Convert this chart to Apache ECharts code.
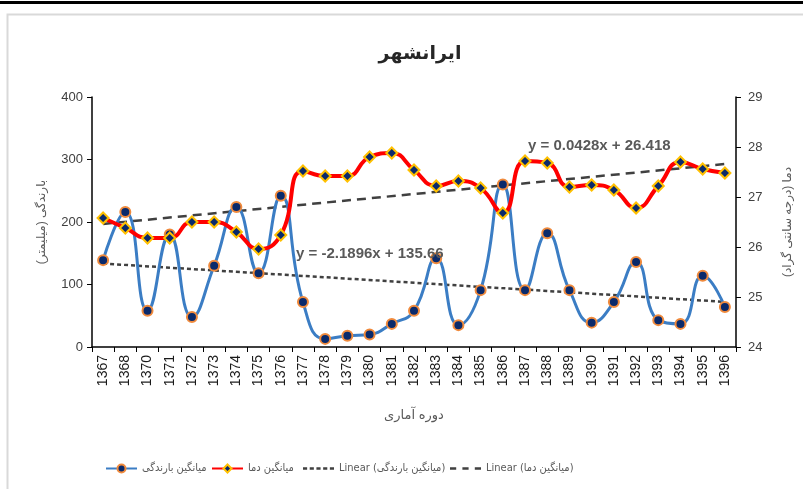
<!DOCTYPE html>
<html>
<head>
<meta charset="utf-8">
<script src="https://cdn.jsdelivr.net/npm/echarts@6/dist/echarts.min.js"></script>
<style>
html,body{margin:0;padding:0;background:#fff;}
#chart{width:803px;height:489px;}
</style>
</head>
<body>
<div id="chart"></div>
<script>
// ---- data ----
var years = ['1367','1368','1370','1371','1372','1373','1374','1375','1376','1377','1378','1379','1380','1381','1382','1383','1384','1385','1386','1387','1388','1389','1390','1391','1392','1393','1394','1395','1396'];
var precipitation = [139,216,58,180,48,130,224,118,242,72,13,18,20,37,58,142,35,91,260,91,182,91,39,72,136,43,37,114,64];
var temperature = [26.58,26.38,26.18,26.18,26.5,26.5,26.3,25.96,26.24,27.52,27.42,27.42,27.8,27.88,27.54,27.22,27.32,27.18,26.68,27.72,27.68,27.2,27.24,27.14,26.78,27.22,27.7,27.56,27.48];
var precipTrendCoef = [-2.1896, 135.66];
var tempTrendCoef = [0.0428, 26.418];
var precipTicks = [0, 400, 100];
var tempTicks = [24, 29, 1];
var title = 'ایرانشهر';
var seriesNames = ['میانگین بارندگی', 'میانگین دما', 'Linear (میانگین بارندگی)', 'Linear (میانگین دما)'];
var axisNames = ['بارندگی (میلیمتر)\u200F', 'دما (درجه سانتی گراد)\u200F', 'دوره آماری'];
var equations = ['y = -2.1896x + 135.66', 'y = 0.0428x + 26.418'];

function trendData(coef) {
  var n = years.length;
  return years.map(function (y, i) {
    if (i === 0 || i === n - 1) return +(coef[0] * (i + 1) + coef[1]).toFixed(4);
    return null;
  });
}

var chart = echarts.init(document.getElementById('chart'));
var txt = '#404040';
var font = '"Liberation Sans", "DejaVu Sans", sans-serif';
var legendFont = '"Liberation Sans Narrow", "DejaVu Sans Condensed", "DejaVu Sans", sans-serif';
var shortDash = 'path://M0,0h4v2.4h-4z M6.5,0h4v2.4h-4z M13,0h4v2.4h-4z M19.5,0h4v2.4h-4z M26,0h4v2.4h-4z';
var longDash = 'path://M0,0h6v2.6h-6z M12,0h6v2.6h-6z M24,0h6v2.6h-6z';
var legendLefts = [100, 206, 298, 445];
var legendIcons = [null, null, shortDash, longDash];

var legends = seriesNames.map(function (nm, i) {
  var d = { name: nm };
  if (legendIcons[i]) d.icon = legendIcons[i];
  return {
    left: legendLefts[i], top: 458, itemWidth: 31, itemHeight: 10, itemGap: 0,
    textStyle: { fontSize: 11, color: '#595959', fontFamily: legendFont },
    data: [d]
  };
});

chart.setOption({
  animation: false,
  backgroundColor: '#fff',
  textStyle: { fontFamily: font },
  title: {
    text: title, left: 415, top: 40, textAlign: 'center',
    textStyle: { fontSize: 19, fontWeight: 'bold', color: '#262626', fontFamily: '"DejaVu Sans", sans-serif' }
  },
  grid: { left: 92, right: 67, top: 97, bottom: 142, containLabel: false },
  legend: legends,
  xAxis: {
    type: 'category', data: years, boundaryGap: true,
    name: axisNames[2], nameLocation: 'middle', nameGap: 62,
    nameTextStyle: { fontSize: 13, color: '#595959' },
    axisLine: { lineStyle: { color: '#000', width: 1.5 } },
    axisTick: { show: true, interval: 0, length: 5, lineStyle: { color: '#000' } },
    axisLabel: { interval: 0, rotate: 90, fontSize: 14, color: '#1a1a1a', margin: 8 }
  },
  yAxis: [{
    type: 'value', min: precipTicks[0], max: precipTicks[1], interval: precipTicks[2],
    name: axisNames[0], nameLocation: 'middle', nameGap: 44, nameRotate: 90,
    nameTextStyle: { fontSize: 12, color: '#595959' },
    axisLine: { show: true, lineStyle: { color: '#000', width: 1.5 } },
    axisTick: { show: true, length: 5, lineStyle: { color: '#000' } },
    axisLabel: { fontSize: 13, color: txt, margin: 9 },
    splitLine: { show: false }
  }, {
    type: 'value', min: tempTicks[0], max: tempTicks[1], interval: tempTicks[2], position: 'right',
    name: axisNames[1], nameLocation: 'middle', nameGap: 46, nameRotate: 90,
    nameTextStyle: { fontSize: 12, color: '#595959' },
    axisLine: { show: true, lineStyle: { color: '#000', width: 1.5 } },
    axisTick: { show: true, length: 5, lineStyle: { color: '#000' } },
    axisLabel: { fontSize: 13, color: txt, margin: 12 },
    splitLine: { show: false }
  }],
  series: [{
    name: seriesNames[0], type: 'line', yAxisIndex: 0, data: precipitation, smooth: 0.5,
    lineStyle: { color: '#3B7DC4', width: 3 },
    itemStyle: { color: '#0A2A6B', borderColor: '#F08A3C', borderWidth: 2 },
    symbol: 'circle', symbolSize: 10, z: 3
  }, {
    name: seriesNames[1], type: 'line', yAxisIndex: 1, data: temperature, smooth: 0.5,
    lineStyle: { color: '#FF0000', width: 4 },
    itemStyle: { color: '#0A2A6B', borderColor: '#FFC000', borderWidth: 2 },
    symbol: 'diamond', symbolSize: 11, z: 4
  }, {
    name: seriesNames[2], type: 'line', yAxisIndex: 0, data: trendData(precipTrendCoef), connectNulls: true,
    lineStyle: { color: '#404040', width: 2.5, type: [4, 3] }, itemStyle: { color: '#404040' },
    symbol: 'none', z: 2
  }, {
    name: seriesNames[3], type: 'line', yAxisIndex: 1, data: trendData(tempTrendCoef), connectNulls: true,
    lineStyle: { color: '#404040', width: 2.5, type: [9, 6] }, itemStyle: { color: '#404040' },
    symbol: 'none', z: 2
  }],
  graphic: [
    { type: 'rect', left: 0, top: 1, shape: { width: 803, height: 3 }, style: { fill: '#000' }, silent: true },
    { type: 'rect', left: 5, top: 12, shape: { width: 820, height: 500 }, style: { fill: 'none', stroke: '#d9d9d9', lineWidth: 2 }, silent: true, z: -1 },
    { type: 'text', left: 296, top: 246, style: { text: equations[0], font: 'bold 15px "Liberation Sans Narrow", "Liberation Sans", sans-serif', fill: '#595959' }, z: 10 },
    { type: 'text', left: 528, top: 138, style: { text: equations[1], font: 'bold 15px "Liberation Sans Narrow", "Liberation Sans", sans-serif', fill: '#595959' }, z: 10 }
  ]
});
</script>
</body>
</html>
